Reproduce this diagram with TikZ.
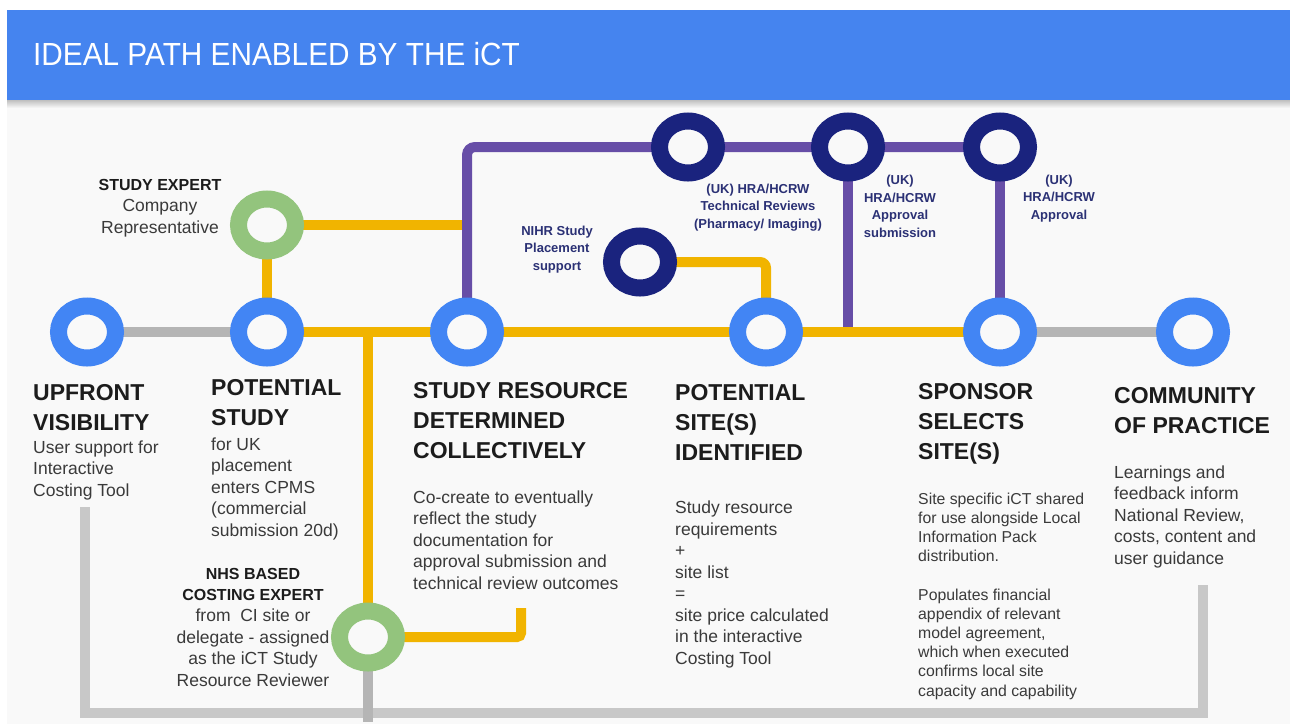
\documentclass[tikz,border=0pt]{standalone}
\usepackage{fontspec}
\setmainfont{Liberation Sans}
\newfontfamily\titlefont[FakeStretch=0.93]{Liberation Sans}
\usetikzlibrary{shapes.geometric}
\pgfdeclarelayer{bg}
\pgfsetlayers{bg,main}
\definecolor{bgc}{HTML}{F9F9F9}
\definecolor{headerblue}{HTML}{4584EF}
\definecolor{ringblue}{HTML}{4285F4}
\definecolor{ringgreen}{HTML}{93C47D}
\definecolor{ringnavy}{HTML}{1A237E}
\definecolor{linepurple}{HTML}{674EA7}
\definecolor{lineyellow}{HTML}{F1B400}
\definecolor{linegray}{HTML}{B5B5B5}
\definecolor{bracketgray}{HTML}{C8C8C8}
\definecolor{headc}{HTML}{1C1C1C}
\definecolor{bodyc}{HTML}{3A3A3A}
\definecolor{labelc}{HTML}{2B3175}
\begin{document}
\begin{tikzpicture}[x=1pt,y=-1pt,
  ring/.style={ellipse, draw=#1, line width=17pt, fill=bgc, minimum width=57pt, minimum height=52pt, inner sep=0pt, outer sep=0pt},
  gline/.style={draw=linegray, line width=10pt},
  bline/.style={draw=bracketgray, line width=10pt},
  yline/.style={draw=lineyellow, line width=10pt},
  pline/.style={draw=linepurple, line width=10pt},
  head/.style={anchor=base west, align=left, inner sep=0pt, text=headc, font=\fontsize{23}{30}\selectfont\bfseries},
  body/.style={anchor=base west, align=left, inner sep=0pt, text=bodyc, font=\fontsize{17.5}{21.5}\selectfont},
  sbody/.style={anchor=base west, align=left, inner sep=0pt, text=bodyc, font=\fontsize{15.8}{19.2}\selectfont},
  expert/.style={anchor=base, align=center, inner sep=0pt, text=bodyc, font=\fontsize{17.5}{21.4}\selectfont},
  lbl/.style={anchor=base, align=center, inner sep=0pt, text=labelc, font=\fontsize{13}{17.5}\selectfont\bfseries}
]
\useasboundingbox (0,0) rectangle (1290,724);

% rings
\node[ring=ringblue] (r1) at (87,332) {};
\node[ring=ringblue] (r2) at (267,332) {};
\node[ring=ringblue] (r3) at (467,332) {};
\node[ring=ringblue] (r4) at (766,332) {};
\node[ring=ringblue] (r5) at (1000,332) {};
\node[ring=ringblue] (r6) at (1193,332) {};
\node[ring=ringgreen] (g1) at (267,225) {};
\node[ring=ringgreen] (g2) at (368,637) {};
\node[ring=ringnavy] (n1) at (688,147) {};
\node[ring=ringnavy] (n2) at (848,147) {};
\node[ring=ringnavy] (n3) at (1000,147) {};
\node[ring=ringnavy] (n4) at (640,262) {};

\coordinate (upb) at (85,507);
\coordinate (bl) at (85,713);
\coordinate (br) at (1203,713);
\coordinate (cpb) at (1203,585);
\coordinate (g2end) at (368,722);
\coordinate (yend) at (521,608);

\begin{pgfonlayer}{bg}
  \fill[white] (0,0) rectangle (1290,724);
  \fill[bgc] (7,100) rectangle (1290,724);
  \shade[top color=black!25, bottom color=bgc] (7,100) rectangle (1290,108);
  \fill[headerblue] (7,10) rectangle (1290,100);
  % gray
  \draw[gline] (r1.center) -- (r2.center);
  \draw[gline] (r5.center) -- (r6.center);
  \draw[bline] (upb) -- (bl) -- (br) -- (cpb);
  \draw[gline] (g2.center) -- (g2end);
  % purple branch to main line
  \draw[pline] (n2.center) -- (n2.center |- r4.center);
  % yellow
  \draw[yline] (r2.center) -- (r5.center);
  \draw[yline] (r2.center) -- (g1.center);
  \draw[yline] (g1.center) -- (g1.center -| r3.center);
  \draw[yline] (g2.center |- r2.center) -- (g2.center);
  \draw[yline, rounded corners=4pt] (g2.center) -| (yend);
  \draw[yline, rounded corners=6pt] (n4.center) -| (r4.center);
  % purple
  \draw[pline, rounded corners=8pt] (r3.center) |- (n3.center);
  \draw[pline] (n3.center) -- (r5.center);
\end{pgfonlayer}

\node[anchor=base west, inner sep=0pt, text=white, font=\titlefont\fontsize{32}{38}\selectfont] (title) at (33,65) {IDEAL PATH ENABLED BY THE iCT};

% anchors below are at the baseline of the LAST line of each block
\node[head] (h1) at (33,430) {UPFRONT\\VISIBILITY};
\node[body] (b1) at (33,496) {User support for\\Interactive\\Costing Tool};
\node[head] (h2) at (211,425) {POTENTIAL\\STUDY};
\node[body] (b2) at (211,536) {for UK\\placement\\enters CPMS\\(commercial\\submission 20d)};
\node[head] (h3) at (413,458) {STUDY RESOURCE\\DETERMINED\\COLLECTIVELY};
\node[body] (b3) at (413,589) {Co-create to eventually\\reflect the study\\documentation for\\approval submission and\\technical review outcomes};
\node[head] (h4) at (675,460) {POTENTIAL\\SITE(S)\\IDENTIFIED};
\node[body] (b4) at (675,664) {Study resource\\requirements\\+\\site list\\=\\site price calculated\\in the interactive\\Costing Tool};
\node[head] (h5) at (918,459) {SPONSOR\\SELECTS\\SITE(S)};
\node[sbody] (b5) at (918,696) {Site specific iCT shared\\for use alongside Local\\Information Pack\\distribution.\\[19.2pt]Populates financial\\appendix of relevant\\model agreement,\\which when executed\\confirms local site\\capacity and capability};
\node[head] (h6) at (1114,433) {COMMUNITY\\OF PRACTICE};
\node[body] (b6) at (1114,564) {Learnings and\\feedback inform\\National Review,\\costs, content and\\user guidance};

\node[expert] (e1) at (160,233) {{\fontsize{16}{21}\selectfont\bfseries\color{headc}STUDY EXPERT}\\Company\\Representative};
\node[expert] (e2) at (253,686) {{\fontsize{16}{21}\selectfont\bfseries\color{headc}NHS BASED}\\{\fontsize{16}{21}\selectfont\bfseries\color{headc}COSTING EXPERT}\\from\ \ CI site or\\delegate - assigned\\as the iCT Study\\Resource Reviewer};

\node[lbl] (l1) at (758,228) {(UK) HRA/HCRW\\Technical Reviews\\(Pharmacy/ Imaging)};
\node[lbl] (l2) at (900,237) {(UK)\\HRA/HCRW\\Approval\\submission};
\node[lbl] (l3) at (1059,219) {(UK)\\HRA/HCRW\\Approval};
\node[lbl] (l4) at (557,270) {NIHR Study\\Placement\\support};
\end{tikzpicture}
\end{document}
